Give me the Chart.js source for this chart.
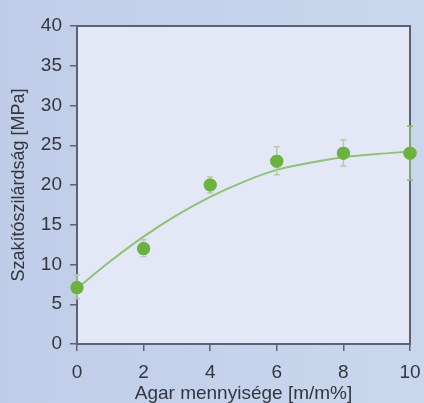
<!DOCTYPE html>
<html>
<head>
<meta charset="utf-8">
<script src="https://cdn.jsdelivr.net/npm/chart.js@4/dist/chart.umd.min.js"></script>
<style>
  html, body { margin: 0; padding: 0; background: #c6d4ec; }
  #wrap { width: 424px; height: 403px; }
</style>
</head>
<body>
<div id="wrap"><canvas id="grafica"></canvas></div>
<script>
// adatok
const agar = [0, 2, 4, 6, 8, 10];
const szilardsag = [7.1, 12.0, 20.0, 23.0, 24.0, 24.0];
const hibaFel = [8.7, 13.1, 21.0, 24.8, 25.7, 27.4];
const hibaLe = [5.7, 11.0, 19.0, 21.3, 22.4, 20.6];

// trendvonal pontjai (leolvasva)
const trendX = [0, 1, 2, 3, 4, 5, 6, 7, 8, 9, 10];
const trendY = [7.0, 10.4, 13.5, 16.2, 18.5, 20.4, 21.9, 22.8, 23.5, 23.9, 24.2];

const xTicks = [0, 2, 4, 6, 8, 10];
const yTicks = [0, 5, 10, 15, 20, 25, 30, 35, 40];

const keretSzin = "#5b6275";
const szovegSzin = "#33363d";

const hatter = {
  id: "hatter",
  beforeDraw(chart) {
    const { ctx, chartArea: a, width, height } = chart;
    ctx.save();
    const g = ctx.createLinearGradient(0, 0, width, 0);
    g.addColorStop(0, "#bfcde8");
    g.addColorStop(1, "#c9d7ee");
    ctx.fillStyle = g;
    ctx.fillRect(0, 0, width, height);
    ctx.fillStyle = "#e4e8f6";
    ctx.fillRect(a.left, a.top, a.right - a.left, a.bottom - a.top);
    ctx.restore();
  },
  beforeDatasetsDraw(chart) {
    const { ctx, chartArea: a } = chart;
    ctx.save();
    ctx.strokeStyle = keretSzin;
    ctx.lineWidth = 2;
    ctx.strokeRect(a.left, a.top, a.right - a.left, a.bottom - a.top);
    ctx.restore();
  }
};

const hibasavok = {
  id: "hibasavok",
  afterDatasetsDraw(chart) {
    const { ctx } = chart;
    const xs = chart.scales.x;
    const ys = chart.scales.y;
    ctx.save();
    ctx.lineWidth = 1.5;
    agar.forEach((x, i) => {
      const px = xs.getPixelForValue(x);
      const top = ys.getPixelForValue(hibaFel[i]);
      const bot = ys.getPixelForValue(hibaLe[i]);
      ctx.strokeStyle = i === agar.length - 1 ? "#86c064" : "#b3cca4";
      ctx.beginPath();
      ctx.moveTo(px, top);
      ctx.lineTo(px, bot);
      ctx.moveTo(px - 3, top);
      ctx.lineTo(px + 3, top);
      ctx.moveTo(px - 3, bot);
      ctx.lineTo(px + 3, bot);
      ctx.stroke();
    });
    // a pontokat újra rárajzoljuk, hogy a hibasáv alatt legyenek
    ctx.fillStyle = "#6cb23f";
    agar.forEach((x, i) => {
      ctx.beginPath();
      ctx.arc(xs.getPixelForValue(x), ys.getPixelForValue(szilardsag[i]), 6.5, 0, Math.PI * 2);
      ctx.fill();
    });
    ctx.restore();
  }
};

new Chart(document.getElementById("grafica"), {
  type: "scatter",
  data: {
    datasets: [
      {
        label: "trend",
        data: trendX.map((x, i) => ({ x: x, y: trendY[i] })),
        showLine: true,
        borderColor: "#8fc276",
        borderWidth: 2,
        pointRadius: 0,
        cubicInterpolationMode: "monotone",
        clip: false
      },
      {
        label: "mért",
        data: agar.map((x, i) => ({ x: x, y: szilardsag[i] })),
        backgroundColor: "#6cb23f",
        borderWidth: 0,
        pointRadius: 6.5,
        clip: false
      }
    ]
  },
  options: {
    responsive: true,
    maintainAspectRatio: false,
    animation: false,
    layout: { padding: { left: 0, top: 26, right: 14, bottom: 0 } },
    plugins: {
      legend: { display: false },
      tooltip: { enabled: false }
    },
    scales: {
      x: {
        type: "linear",
        min: 0,
        max: 10,
        afterBuildTicks(axis) { axis.ticks = xTicks.map((v) => ({ value: v })); },
        afterFit(axis) {
          axis.height = 59;
          axis.paddingLeft = 0;
          axis.paddingRight = 0;
        },
        border: { display: false },
        grid: { drawOnChartArea: false, drawTicks: true, tickLength: 7, color: keretSzin, lineWidth: 1.5 },
        ticks: { padding: 10, color: szovegSzin, font: { family: "Liberation Sans", size: 19 } },
        title: {
          display: true,
          text: "Agar mennyisége [m/m%]",
          color: szovegSzin,
          font: { family: "Liberation Sans", size: 19 },
          padding: { top: 0, bottom: -2 }
        }
      },
      y: {
        min: 0,
        max: 40,
        afterBuildTicks(axis) { axis.ticks = yTicks.map((v) => ({ value: v })); },
        afterFit(axis) {
          axis.width = 77;
          axis.paddingTop = 0;
          axis.paddingBottom = 0;
        },
        border: { display: false },
        grid: { drawOnChartArea: false, drawTicks: true, tickLength: 7, color: keretSzin, lineWidth: 1.5 },
        ticks: { padding: 8, color: szovegSzin, font: { family: "Liberation Sans", size: 19 } },
        title: {
          display: true,
          text: "Szakítószilárdság [MPa]",
          color: szovegSzin,
          font: { family: "Liberation Sans", size: 18 },
          padding: { top: 8, bottom: 0 }
        }
      }
    }
  },
  plugins: [hatter, hibasavok]
});
</script>
</body>
</html>
